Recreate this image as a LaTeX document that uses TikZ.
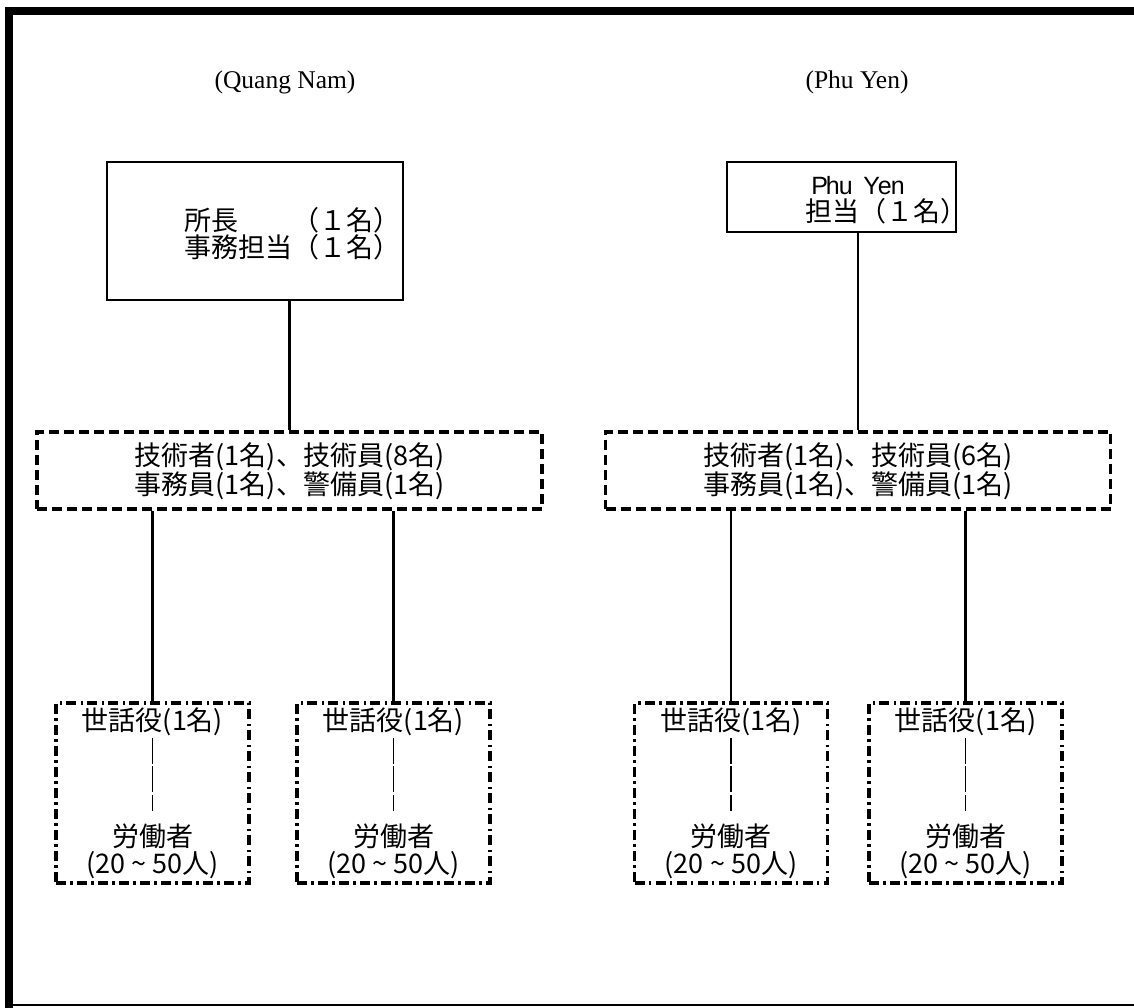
\documentclass[tikz,border=0pt]{standalone}
\usepackage{fontspec}
\newfontfamily\jpfont{Noto Sans CJK JP}
\newfontfamily\titlefont{Liberation Serif}
\newfontfamily\latinsans{Liberation Sans}
% half-width cell for Latin letters set on a fixed pitch
\newcommand{\hwcell}[1]{\makebox[13pt]{#1}}
\begin{document}
\begin{tikzpicture}[x=1pt,y=-1pt,
  jptext/.style={inner sep=0pt, font=\jpfont\fontsize{27}{27}\selectfont},
  titletext/.style={inner sep=0pt, font=\titlefont\fontsize{25.5}{30}\selectfont},
  solidbox/.style={draw, line width=2.2pt, inner sep=0pt},
  staffbox/.style={draw, line width=3.5pt, inner sep=0pt, dash pattern=on 10pt off 5pt,
    minimum width=505pt, minimum height=77pt},
  crewbox/.style={draw, line width=3.5pt, inner sep=0pt,
    dash pattern=on 10pt off 4pt on 2.5pt off 4.5pt,
    minimum width=193pt, minimum height=180pt},
  conn/.style={line width=2.5pt},
  innerlink/.style={line width=1.4pt, dash pattern=on 26pt off 2pt on 26pt off 3pt on 16pt off 100pt}]
\useasboundingbox (0,0) rectangle (1134,1008);

% page frame: heavy left and top rules, light bottom rule
\draw[line width=8pt] (9,1008) -- (9,11) -- (1134,11);
\draw[line width=2pt] (13,1005) -- (1134,1005);

% region headings
\node[titletext] (qntitle) at (285,82) {(Quang Nam)};
\node[titletext] (pytitle) at (857,82) {(Phu Yen)};

% top-level offices
\node[solidbox, minimum width=296pt, minimum height=138pt] (qnhead) at (255,231) {};
\node[jptext, align=left] (qnheadtext) at (292,233.5) {所長　　（１名）\\事務担当（１名）};

\node[solidbox, minimum width=229pt, minimum height=70pt] (pyhead) at (841.5,197) {};
\node[jptext, align=left, anchor=west] (pyheadtext) at (805,200)
  {\hspace{8pt}{\latinsans\fontsize{25}{27}\selectfont
     \hwcell{P}\hwcell{h}\hwcell{u}\hwcell{ }\hwcell{Y}\hwcell{e}\hwcell{n}}\\担当（１名）};

% staff groups
\node[staffbox] (qnstaff) at (289.5,470.5) {};
\node[jptext, align=center] (qnstafftext) at (289.5,471.5)
  {技術者(1名)、技術員(8名)\\事務員(1名)、警備員(1名)};
\node[staffbox] (pystaff) at (858,470.5) {};
\node[jptext, align=center] (pystafftext) at (858,471.5)
  {技術者(1名)、技術員(6名)\\事務員(1名)、警備員(1名)};

\draw[conn] (qnhead.south -| qnstaff.north) -- (qnstaff.north);
\draw[conn] (pyhead.south -| pystaff.north) -- (pystaff.north);

% work crews
\foreach \crew/\cx/\parent in {qa/152.5/qnstaff, qb/393.5/qnstaff, pa/731/pystaff, pb/965.5/pystaff}{
  \node[crewbox] (\crew) at (\cx,793) {};
  \node[jptext] (\crew lead) at (\cx,722) {世話役(1名)};
  \node[jptext, align=center] (\crew work) at (\cx,851.5) {労働者\\(20 \char"007E{} 50人)};
  \draw[innerlink] ([yshift=-37pt]\crew.north) -- ([yshift=-110pt]\crew.north);
  \draw[conn] (\parent.south -| \crew.north) -- (\crew.north);
}
\end{tikzpicture}
\end{document}
